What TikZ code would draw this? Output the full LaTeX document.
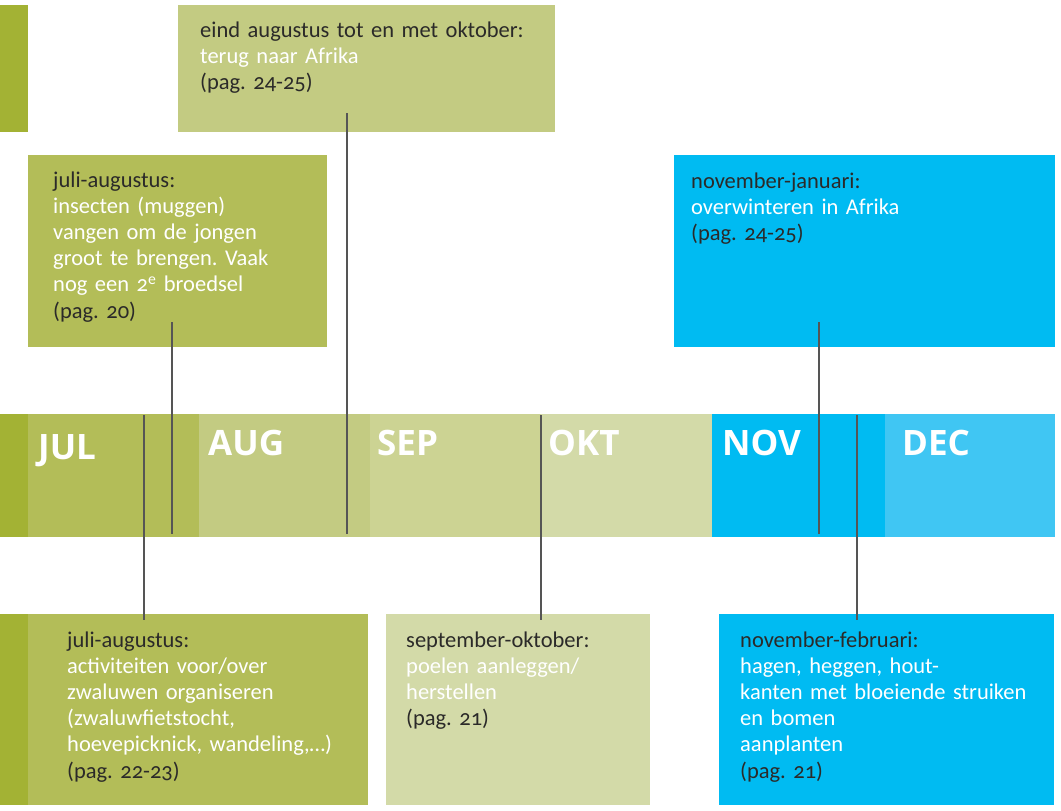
\documentclass[tikz,border=0pt]{standalone}
\usepackage{fontspec}
\setmainfont{Carlito}[Numbers=OldStyle]
\newfontfamily\monthfont{Open Sans}
\usepackage{xcolor}
\usepackage{tikz}
\frenchspacing

\definecolor{stripgreen}{HTML}{A3B234}
\definecolor{julgreen}{HTML}{B3BD58}
\definecolor{auggreen}{HTML}{C3CB82}
\definecolor{sepgreen}{HTML}{CCD393}
\definecolor{oktgreen}{HTML}{D3DAA8}
\definecolor{novblue}{HTML}{00BBF2}
\definecolor{decblue}{HTML}{40C6F3}
\definecolor{ink}{HTML}{2B2A29}
\definecolor{pin}{HTML}{555555}

\begin{document}
\begin{tikzpicture}[x=1pt,y=-1pt]
			\tikzstyle{box} = [anchor=north west, inner sep=0pt, outer sep=0pt]
			\tikzstyle{month} = [box, minimum height=123pt]
			\tikzstyle{monthname} = [anchor=base west, inner sep=0pt, text=white, font=\monthfont\bfseries\fontsize{35}{35}\selectfont]
			\tikzstyle{note} = [anchor=base west, inner sep=0pt, text width=330pt, align=left, text=ink, font=\fontsize{22.5}{26.2}\selectfont]
			\tikzset{pinline/.style = {draw=pin, line width=1.2pt}}
			
			\useasboundingbox (0,0) rectangle (1061,811);
			
			% boxes above the band
			\node[box, fill=stripgreen, minimum width=28pt, minimum height=127pt](topstrip) at (0,5) {};
			\node[box, fill=auggreen, minimum width=377pt, minimum height=127pt](tripbox) at (178,5) {};
			\node[box, fill=julgreen, minimum width=299pt, minimum height=192pt](broodbox) at (28,155) {};
			\node[box, fill=novblue, minimum width=381pt, minimum height=192pt](winterbox) at (674,155) {};
			
			\node[note](triptext) at (200,37) {eind augustus tot en met oktober:\\
				\textcolor{white}{terug naar Afrika}\\
				(pag. 24-25)};
			\node[note](broodtext) at (53,187) {juli-augustus:\\
				\textcolor{white}{insecten (muggen)}\\
				\textcolor{white}{vangen om de jongen}\\
				\textcolor{white}{groot te brengen. Vaak}\\
				\textcolor{white}{nog een 2\textsuperscript{e} broedsel}\\
				(pag. 20)};
			\node[note](wintertext) at (691,188) {november-januari:\\
				\textcolor{white}{overwinteren in Afrika}\\
				(pag. 24-25)};
			
			% the band of months
			\node[month, fill=stripgreen, minimum width=28pt](bandstrip) at (0,414) {};
			\node[month, fill=julgreen, minimum width=171pt](jul) at (28,414) {};
			\node[month, fill=auggreen, minimum width=171pt](aug) at (199,414) {};
			\node[month, fill=sepgreen, minimum width=171pt](sep) at (370,414) {};
			\node[month, fill=oktgreen, minimum width=171pt](okt) at (541,414) {};
			\node[month, fill=novblue, minimum width=173pt](nov) at (712,414) {};
			\node[month, fill=decblue, minimum width=170pt](dec) at (885,414) {};
			
			\node[monthname](julname) at (38,459) {JUL};
			\node[monthname](augname) at (208,455) {AUG};
			\node[monthname](sepname) at (377,455) {SEP};
			\node[monthname](oktname) at (548,455) {OKT};
			\node[monthname](novname) at (722,455) {NOV};
			\node[monthname](decname) at (902,455) {DEC};
			
			% boxes below the band
			\node[box, fill=stripgreen, minimum width=28pt, minimum height=191pt](bottomstrip) at (0,614) {};
			\node[box, fill=julgreen, minimum width=340pt, minimum height=191pt](activbox) at (28,614) {};
			\node[box, fill=oktgreen, minimum width=264pt, minimum height=191pt](poelbox) at (386,614) {};
			\node[box, fill=novblue, minimum width=335pt, minimum height=191pt](hagenbox) at (719,614) {};
			
			\node[note](activtext) at (67,647) {juli-augustus:\\
				\textcolor{white}{activiteiten voor/over}\\
				\textcolor{white}{zwaluwen organiseren}\\
				\textcolor{white}{(zwaluwfietstocht,}\\
				\textcolor{white}{hoevepicknick, wandeling,\dots)}\\
				(pag. 22-23)};
			\node[note](poeltext) at (406,647) {september-oktober:\\
				\textcolor{white}{poelen aanleggen/}\\
				\textcolor{white}{herstellen}\\
				(pag. 21)};
			\node[note](hagentext) at (740,647) {november-februari:\\
				\textcolor{white}{hagen, heggen, hout-}\\
				\textcolor{white}{kanten met bloeiende struiken}\\
				\textcolor{white}{en bomen}\\
				\textcolor{white}{aanplanten}\\
				(pag. 21)};
			
			% pins from the boxes into the band
			\coordinate (tripin) at (347,113);
			\coordinate (tripend) at (347,534);
			\coordinate (broodin) at (172,322);
			\coordinate (broodend) at (172,534);
			\coordinate (winterin) at (819,322);
			\coordinate (winterend) at (819,534);
			\coordinate (activstart) at (144,415);
			\coordinate (activin) at (144,620);
			\coordinate (poelstart) at (541,415);
			\coordinate (poelin) at (541,620);
			\coordinate (hagenstart) at (857,415);
			\coordinate (hagenin) at (857,620);
			\draw[pinline](tripin) to (tripend);
			\draw[pinline](broodin) to (broodend);
			\draw[pinline](winterin) to (winterend);
			\draw[pinline](activstart) to (activin);
			\draw[pinline](poelstart) to (poelin);
			\draw[pinline](hagenstart) to (hagenin);
			
			\end{tikzpicture}
\end{document}
